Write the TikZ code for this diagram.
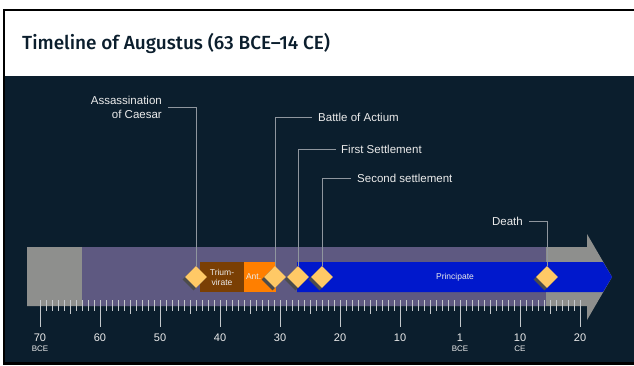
\documentclass[tikz,border=0pt]{standalone}
\usepackage{fontspec}
\setmainfont{Liberation Sans}
\IfFontExistsTF{Fira Sans Medium}
  {\newfontfamily\titlefont{Fira Sans Medium}}
  {\newfontfamily\titlefont{Fira Sans}}
\usetikzlibrary{positioning,shapes.geometric,shadows}

\definecolor{navy}{HTML}{0B1E2D}
\definecolor{bandpurple}{HTML}{5E5981}
\definecolor{bandgray}{HTML}{8E8F8D}
\definecolor{reignblue}{HTML}{0018CC}
\definecolor{triumbrown}{HTML}{7A3F04}
\definecolor{antorange}{HTML}{FF7F00}
\definecolor{eventgold}{HTML}{FFC966}
\definecolor{leadgray}{HTML}{8F969E}
\definecolor{ticktone}{HTML}{C4C8CC}

\begin{document}
\begin{tikzpicture}[
    x=1pt, y=-1pt,
    every node/.style={font=\fontsize{11.5}{14}\selectfont, text=white!92!black},
    event/.style={diamond, fill=eventgold, inner sep=0pt, minimum size=22pt,
      drop shadow={shadow xshift=-2.5pt, shadow yshift=-2.5pt, fill=gray!60!black, opacity=1}},
    eventlbl/.style={inner sep=0pt, align=right},
    leader/.style={draw=leadgray, line width=0.8pt},
    period/.style={inner sep=0pt, minimum height=30pt, font=\fontsize{8.5}{10}\selectfont, align=center},
    tick/.style={draw=ticktone, line width=0.7pt},
    yearlbl/.style={font=\fontsize{11}{12}\selectfont, inner sep=0pt},
    eralbl/.style={font=\fontsize{8}{9}\selectfont, inner sep=0pt}
]

% frame, header and dark panel
\fill[white] (0,0) rectangle (634,365);
\fill[black] (3,9) rectangle (634,365);
\fill[white] (5,11) rectangle (634,76);
\fill[navy] (5,76) rectangle (634,362);

\node[font=\titlefont\fontsize{19}{22}\selectfont, text=navy, anchor=west, inner sep=0pt] (title) at (22,43) {Timeline of Augustus (63 BCE–14 CE)};

% life band
\fill[bandgray] (27,247) -- (587,247) -- (587,234) -- (612,277) -- (587,320) -- (587,306) -- (27,306) -- cycle;
\fill[bandpurple] (82,247) rectangle (546,306);
\fill[reignblue] (297,262) -- (603,262) -- (612,277) -- (603,292) -- (297,292) -- cycle;

\node[period, fill=triumbrown, minimum width=44pt] (triumvirate) at (222,277) {Trium-\\virate};
\node[period, fill=antorange, text width=28pt, inner xsep=2pt, align=left] (antony) at (260,277) {Ant.};
\node[font=\fontsize{8.5}{10}\selectfont] (principate) at (455,277) {Principate};

% ticks
\foreach \t in {0,...,90} \draw[tick] ({40+6*\t},300) -- ++(0,11);
\foreach \t in {5,15,...,85} \draw[tick] ({40+6*\t},300) -- ++(0,14);
\foreach \t/\yr in {0/70,10/60,20/50,30/40,40/30,50/20,60/10,70/1,80/10,90/20} {
  \draw[tick] ({40+6*\t},300) -- ++(0,27);
  \node[yearlbl] (yr\t) at ({40+6*\t},338) {\yr};
}
\node[eralbl, below=4pt of yr0] (bce0) {BCE};
\node[eralbl, below=4pt of yr70] (bce1) {BCE};
\node[eralbl, below=4pt of yr80] (ce10) {CE};

% events
\node[event] (caesar) at (196,277) {};
\node[event] (actium) at (275,277) {};
\node[event] (settle1) at (298,277) {};
\node[event] (settle2) at (322,277) {};
\node[event] (death) at (547,277) {};

\node[eventlbl, anchor=east] (caesar-lbl) at (162,107) {Assassination\\of Caesar};
\node[eventlbl, anchor=west] (actium-lbl) at (318,117) {Battle of Actium};
\node[eventlbl, anchor=west] (settle1-lbl) at (341,149) {First Settlement};
\node[eventlbl, anchor=west] (settle2-lbl) at (357,178) {Second settlement};
\node[eventlbl, anchor=east] (death-lbl) at (523,221) {Death};

\draw[leader] ([xshift=6pt]caesar-lbl.east) -| (caesar.north);
\draw[leader] ([xshift=-6pt]actium-lbl.west) -| (actium.north);
\draw[leader] ([xshift=-5pt]settle1-lbl.west) -| (settle1.north);
\draw[leader] ([xshift=-6pt]settle2-lbl.west) -| (settle2.north);
\draw[leader] ([xshift=6pt]death-lbl.east) -| (death.north);

\end{tikzpicture}
\end{document}
